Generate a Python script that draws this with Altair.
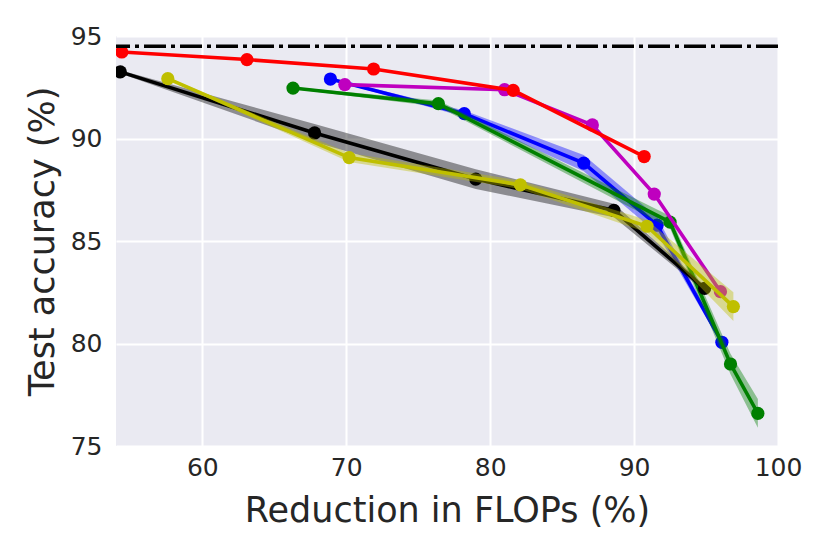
import altair as alt
import pandas as pd

# ---- data ----
red_x = [54.4, 63.1, 71.9, 81.6, 90.7]
red_y = [94.22, 93.85, 93.39, 92.35, 89.12]

mag_x = [69.9, 81.0, 87.1, 91.4, 96.0]
mag_y = [92.63, 92.38, 90.66, 87.29, 82.53]

blue_x = [68.9, 78.2, 86.5, 91.6, 96.1]
blue_y = [92.90, 91.21, 88.80, 85.77, 80.06]
blue_err = [0.05, 0.15, 0.40, 0.40, 0.12]

green_x = [66.3, 76.4, 92.5, 96.7, 98.6]
green_y = [92.46, 91.70, 85.92, 79.00, 76.59]
green_err = [0.05, 0.15, 0.30, 0.50, 0.70]

black_x = [54.3, 67.8, 79.0, 88.6, 94.9]
black_y = [93.25, 90.27, 88.02, 86.49, 82.69]
black_err = [0.08, 0.44, 0.48, 0.33, 0.15]

yel_x = [57.6, 70.2, 82.1, 90.9, 96.9]
yel_y = [92.92, 89.07, 87.74, 85.72, 81.80]
yel_err = [0.05, 0.22, 0.20, 0.30, 0.70]

baseline_acc = 94.5

x_ticks = [60, 70, 80, 90, 100]
y_ticks = [75, 80, 85, 90, 95]

FONT = "DejaVu Sans"
TXT = "#262626"

xs = alt.Scale(domain=[54, 100], nice=False, zero=False)
ys = alt.Scale(domain=[75, 95], nice=False, zero=False)

x_axis = alt.Axis(values=x_ticks, title="Reduction in FLOPs (%)", grid=True,
                  gridColor="white", gridWidth=2, domain=False, ticks=False,
                  labelFlush=False,
                  labelFont=FONT, labelFontSize=25, labelColor=TXT, labelPadding=9,
                  titleFont=FONT, titleFontSize=35, titleFontWeight="normal",
                  titleColor=TXT, titlePadding=13)
y_axis = alt.Axis(values=y_ticks, title="Test accuracy (%)", grid=True,
                  gridColor="white", gridWidth=2, domain=False, ticks=False,
                  labelFlush=False,
                  labelFont=FONT, labelFontSize=25, labelColor=TXT, labelPadding=14,
                  titleFont=FONT, titleFontSize=35, titleFontWeight="normal",
                  titleColor=TXT, titlePadding=10)

XE = lambda f: alt.X(f, scale=xs, axis=x_axis)
YE = lambda f: alt.Y(f, scale=ys, axis=y_axis)


def series_layers(xv, yv, color, err=None):
    df = pd.DataFrame({"x": xv, "y": yv})
    layers = []
    if err is not None:
        df["lo"] = [a - e for a, e in zip(yv, err)]
        df["hi"] = [a + e for a, e in zip(yv, err)]
        layers.append(
            alt.Chart(df).mark_area(color=color, opacity=0.4, clip=True).encode(
                x=XE("x:Q"), y=YE("lo:Q"), y2="hi:Q",
            )
        )
    layers.append(
        alt.Chart(df).mark_line(color=color, strokeWidth=3.6, clip=True).encode(
            x=XE("x:Q"), y=YE("y:Q"))
    )
    layers.append(
        alt.Chart(df).mark_circle(color=color, size=175, opacity=1, clip=True).encode(
            x=XE("x:Q"), y=YE("y:Q"))
    )
    return layers


layers = []
layers += series_layers(blue_x, blue_y, "#0000FF", blue_err)
layers += series_layers(green_x, green_y, "#008000", green_err)
layers += series_layers(mag_x, mag_y, "#BF00BF")
layers += series_layers(red_x, red_y, "#FF0000")
layers += series_layers(black_x, black_y, "#000000", black_err)
layers += series_layers(yel_x, yel_y, "#BFBF00", yel_err)

rule = alt.Chart(pd.DataFrame({"y": [baseline_acc]})).mark_rule(
    color="black", strokeWidth=3.5, strokeDash=[22, 5, 4, 5], strokeCap="butt"
).encode(y=YE("y:Q"))
layers.append(rule)

chart = alt.layer(*layers).properties(
    width=662,
    height=410,
    autosize=alt.AutoSizeParams(type="none"),
    padding={"left": 108, "top": 28, "right": 40, "bottom": 100},
).configure_view(fill="#EAEAF2", stroke=None)

chart.save("out.html", embed_options={"renderer": "svg", "actions": False})
